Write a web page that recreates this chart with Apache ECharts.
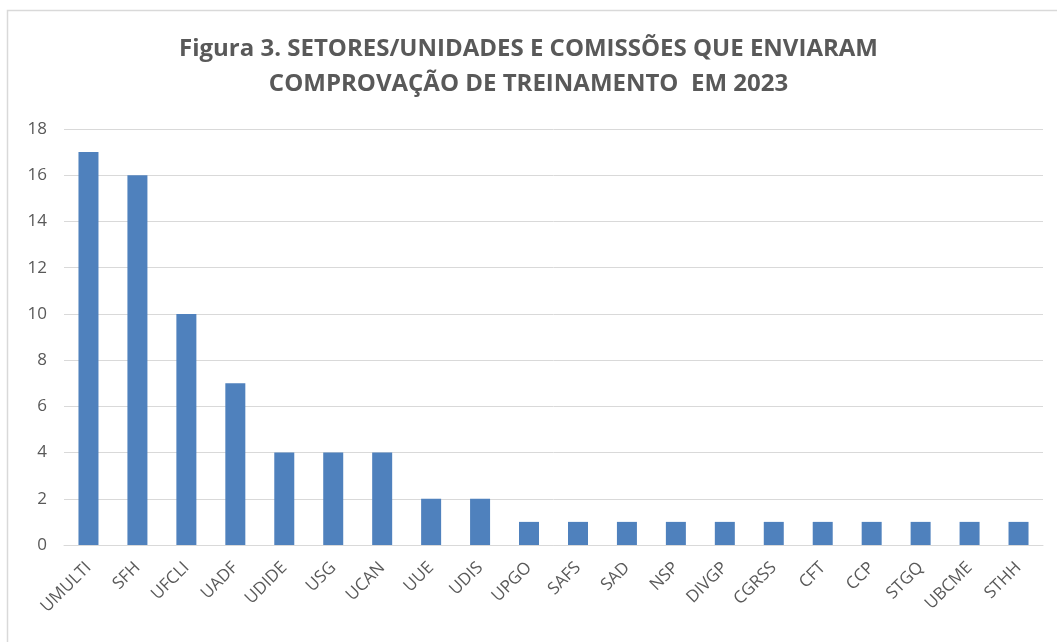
<!DOCTYPE html>
<html>
<head>
<meta charset="utf-8">
<script src="https://cdn.jsdelivr.net/npm/echarts@6/dist/echarts.min.js"></script>
<style>
  html, body { margin: 0; padding: 0; background: #fff; }
  #chart { width: 1057px; height: 642px; }
</style>
</head>
<body>
<div id="chart"></div>
<script>
var setores = ['UMULTI', 'SFH', 'UFCLI', 'UADF', 'UDIDE', 'USG', 'UCAN', 'UUE', 'UDIS', 'UPGO',
    'SAFS', 'SAD', 'NSP', 'DIVGP', 'CGRSS', 'CFT', 'CCP', 'STGQ', 'UBCME', 'STHH'];
var quantidades = [17, 16, 10, 7, 4, 4, 4, 2, 2, 1, 1, 1, 1, 1, 1, 1, 1, 1, 1, 1];
var titulo = 'Figura 3. SETORES/UNIDADES E COMISSÕES QUE ENVIARAM\nCOMPROVAÇÃO DE TREINAMENTO  EM 2023';

var chart = echarts.init(document.getElementById('chart'));
var fonte = '"Open Sans", sans-serif';

var option = {
    animation: false,
    graphic: [{
        type: 'rect',
        shape: { x: 7.5, y: 10.5, width: 1060, height: 650 },
        style: { fill: 'none', stroke: '#d9d9d9', lineWidth: 1.5 },
        silent: true
    }],
    title: {
        text: titulo,
        left: 'center',
        top: 27,
        textStyle: {
            fontFamily: fonte,
            fontSize: 24,
            fontWeight: 'bold',
            color: '#595959',
            lineHeight: 35
        }
    },
    grid: {
        left: 64,
        right: 14,
        top: 129,
        bottom: 97
    },
    xAxis: {
        type: 'category',
        data: setores,
        axisLine: { lineStyle: { color: '#d9d9d9', width: 1 } },
        axisTick: { show: false },
        axisLabel: {
            rotate: 45,
            interval: 0,
            margin: 20,
            color: '#595959',
            fontFamily: fonte,
            fontSize: 17
        }
    },
    yAxis: {
        type: 'value',
        min: 0,
        max: 18,
        interval: 2,
        axisLine: { show: false },
        axisTick: { show: false },
        splitLine: { lineStyle: { color: '#d9d9d9', width: 1 } },
        axisLabel: {
            margin: 17,
            color: '#595959',
            fontFamily: fonte,
            fontSize: 17
        }
    },
    series: [{
        type: 'bar',
        data: quantidades,
        barWidth: 20,
        itemStyle: { color: '#4f81bd' }
    }]
};
chart.setOption(option);
</script>
</body>
</html>
